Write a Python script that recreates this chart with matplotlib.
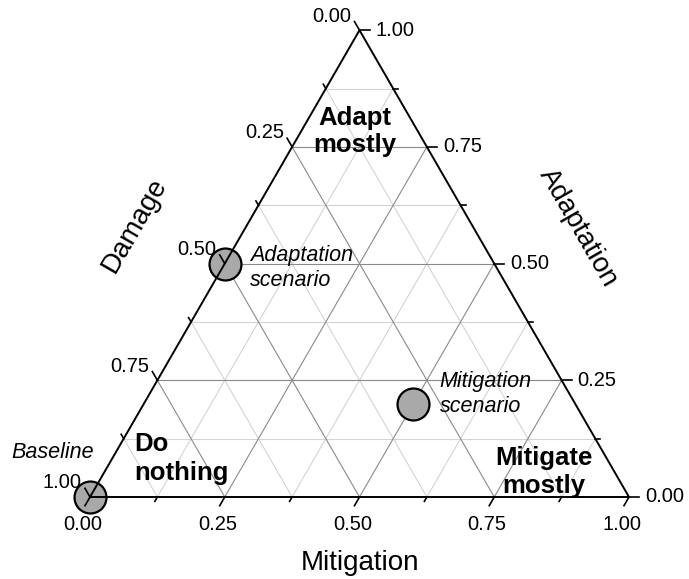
import numpy as np
import matplotlib.pyplot as plt

plt.rcParams["font.family"] = ["Liberation Sans", "DejaVu Sans"]

# scenario points (mitigation, adaptation, damage)
point_names = ["Baseline", "Adaptation scenario", "Mitigation scenario"]
mitigation = [0.0, 0.0, 0.5]
adaptation = [0.0, 0.5, 0.2]
damage = [1.0, 0.5, 0.3]

major_vals = [0.0, 0.25, 0.5, 0.75, 1.0]
minor_vals = [0.125, 0.375, 0.625, 0.875]
tick_labels = ["0.00", "0.25", "0.50", "0.75", "1.00"]

H = np.sqrt(3) / 2


def to_xy(m, a):
    m = np.asarray(m, dtype=float)
    a = np.asarray(a, dtype=float)
    return m + a / 2, a * H


fig = plt.figure(figsize=(6.89, 5.79), dpi=100)
ax = fig.add_axes([0, 0, 1, 1])
ax.set_xlim(-90 / 539, (689 - 90) / 539)
ax.set_ylim(-82 / 539, (579 - 82) / 539)
ax.axis("off")

# grid lines
for vals, col in [(minor_vals, "#d4d4d4"), (major_vals[1:-1], "#8a8a8a")]:
    for v in vals:
        # constant adaptation (horizontal)
        x, y = to_xy([0, 1 - v], [v, v])
        ax.plot(x, y, color=col, lw=0.8, zorder=1)
        # constant mitigation
        x, y = to_xy([v, v], [0, 1 - v])
        ax.plot(x, y, color=col, lw=0.8, zorder=1)
        # constant damage
        x, y = to_xy([0, 1 - v], [1 - v, 0])
        ax.plot(x, y, color=col, lw=0.8, zorder=1)

# points (drawn under the triangle edges and ticks)
x, y = to_xy(mitigation, adaptation)
ax.plot(x, y, "o", ms=23, mfc="#a9a9a9", mec="black", mew=1.6, ls="none", zorder=2)

# triangle
x, y = to_xy([0, 1, 0, 0], [0, 0, 1, 0])
ax.plot(x, y, color="black", lw=1.4, zorder=3, solid_joinstyle="miter")

# ticks
L_maj, L_min = 0.0186, 0.0093
dirs = {"bottom": (-0.5, -H), "left": (-0.5, H), "right": (1.0, 0.0)}


def axis_point(side, v):
    if side == "bottom":
        return to_xy(v, 0)
    if side == "left":
        return to_xy(0, 1 - v)
    return to_xy(1 - v, v)


for side, d in dirs.items():
    for vals, L in [(major_vals, L_maj), (minor_vals, L_min)]:
        for v in vals:
            px, py = axis_point(side, v)
            ax.plot([px, px + d[0] * L], [py, py + d[1] * L], color="black",
                    lw=1.2, zorder=3)

# tick labels
for v, lab in zip(major_vals, tick_labels):
    px, py = axis_point("bottom", v)
    ax.annotate(lab, (px, py), xytext=(-7, -27), textcoords="offset pixels",
                ha="center", va="center", fontsize=14.5)
    px, py = axis_point("left", v)
    ax.annotate(lab, (px, py), xytext=(-8, 14), textcoords="offset pixels",
                ha="right", va="center", fontsize=14.5)
    px, py = axis_point("right", v)
    ax.annotate(lab, (px, py), xytext=(16, 0), textcoords="offset pixels",
                ha="left", va="center", fontsize=14.5)

# axis titles
ax.text(0.083, 0.505, "Damage", rotation=60, ha="center", va="center", fontsize=20)
ax.text(0.905, 0.500, "Adaptation", rotation=-60, ha="center", va="center", fontsize=20)
ax.text(0.501, -0.122, "Mitigation", ha="center", va="center", fontsize=20)

# region labels
ax.text(0.492, 0.678, "Adapt\nmostly", ha="center", va="center", fontsize=18.5,
        fontweight="bold", linespacing=1.2)
ax.text(0.083, 0.071, "Do\nnothing", ha="left", va="center", fontsize=18.5,
        fontweight="bold", linespacing=1.25)
ax.text(0.842, 0.046, "Mitigate\nmostly", ha="center", va="center", fontsize=18.5,
        fontweight="bold", linespacing=1.2)

# scenario labels
ax.text(-0.069, 0.082, "Baseline", ha="center", va="center", fontsize=15.5,
        style="italic")
ax.text(0.297, 0.425, "Adaptation\nscenario", ha="left", va="center", fontsize=15.5,
        style="italic", linespacing=1.25)
ax.text(0.649, 0.191, "Mitigation\nscenario", ha="left", va="center", fontsize=15.5,
        style="italic", linespacing=1.25)

fig.savefig("out.png", dpi=100)
